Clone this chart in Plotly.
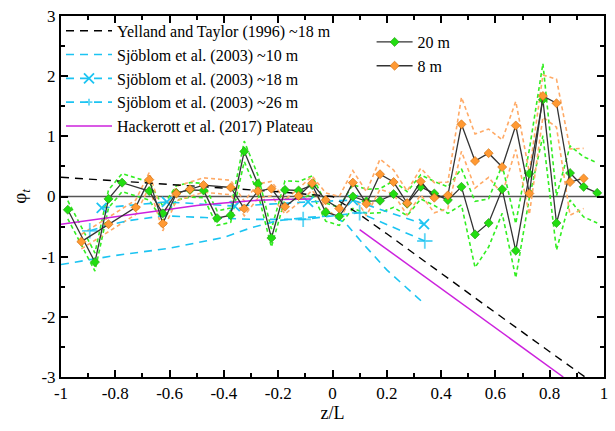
import plotly.graph_objects as go

# ---------------- data ----------------
x20 = [-0.975, -0.875, -0.825, -0.775, -0.675, -0.625, -0.575, -0.525, -0.475, -0.425,
       -0.375, -0.325, -0.275, -0.225, -0.175, -0.125, -0.075, -0.025, 0.025, 0.075,
       0.125, 0.175, 0.225, 0.275, 0.325, 0.375, 0.425, 0.475, 0.525, 0.575,
       0.625, 0.675, 0.725, 0.775, 0.825, 0.875, 0.925, 0.975]
y20 = [-0.22, -1.09, -0.04, 0.23, 0.09, -0.28, 0.06, 0.11, 0.10, -0.36,
       -0.31, 0.75, 0.21, -0.69, 0.11, 0.10, 0.19, -0.26, -0.33, 0.00,
       -0.08, -0.07, 0.04, -0.12, 0.16, 0.05, -0.06, 0.16, -0.63, -0.44,
       0.12, -0.90, 0.38, 1.61, -0.44, 0.39, 0.16, 0.06]
e20 = [0.15, 0.15, 0.15, 0.15, 0.15, 0.12, 0.12, 0.12, 0.12, 0.12,
       0.12, 0.17, 0.15, 0.15, 0.15, 0.15, 0.15, 0.15, 0.15, 0.20,
       0.20, 0.20, 0.22, 0.20, 0.20, 0.20, 0.22, 0.30, 0.55, 0.40,
       0.40, 0.45, 0.40, 0.60, 0.45, 0.45, 0.50, 0.50]

x8 = [-0.925, -0.825, -0.725, -0.675, -0.625, -0.575, -0.525, -0.475, -0.375, -0.325,
      -0.275, -0.225, -0.175, -0.125, -0.075, -0.025, 0.025, 0.075, 0.125, 0.175,
      0.225, 0.275, 0.325, 0.375, 0.425, 0.475, 0.525, 0.575, 0.625, 0.675,
      0.725, 0.775, 0.825, 0.875, 0.925]
y8 = [-0.75, -0.46, -0.18, 0.28, -0.45, 0.05, 0.12, 0.19, 0.15, -0.20,
      0.09, 0.13, -0.17, 0.01, 0.22, -0.06, -0.20, 0.23, -0.12, 0.37,
      0.24, -0.11, 0.25, -0.02, 0.02, 1.20, 0.59, 0.72, 0.49, 1.18,
      0.05, 1.67, 1.55, 0.24, 0.30]
e8 = [0.12, 0.12, 0.12, 0.12, 0.12, 0.12, 0.12, 0.12, 0.12, 0.12,
      0.12, 0.12, 0.12, 0.12, 0.12, 0.12, 0.20, 0.20, 0.20, 0.25,
      0.20, 0.20, 0.22, 0.25, 0.22, 0.45, 0.45, 0.40, 0.45, 0.40,
      0.35, 0.35, 0.40, 0.55, 0.50]

x_yt = [-1.0, -0.8, -0.6, -0.4, -0.2, 0.0, 0.1, 0.2, 0.4, 0.6, 0.8, 0.93]
y_yt = [0.32, 0.26, 0.20, 0.14, 0.08, 0.0, -0.30, -0.62, -1.28, -1.93, -2.58, -3.0]

x_s10 = [-1.0, -0.8, -0.6, -0.4, -0.3, -0.2, -0.1, 0.0, 0.05, 0.1, 0.2, 0.33]
y_s10 = [-1.13, -0.98, -0.86, -0.68, -0.52, -0.40, -0.35, -0.32, -0.45, -0.72, -1.22, -1.75]

x_s18 = [-0.85, -0.61, -0.36, -0.09, 0.075, 0.337]
y_s18 = [-0.19, -0.09, -0.16, -0.09, -0.06, -0.46]

x_s26 = [-0.894, -0.83, -0.75, -0.62, -0.47, -0.29, -0.108, 0.1, 0.34]
y_s26 = [-0.57, -0.48, -0.40, -0.32, -0.35, -0.38, -0.38, -0.27, -0.74]
s26_marked = [True, False, False, False, False, False, True, True, True]

x_hk = [-1.0, -0.9, -0.8, -0.7, -0.6, -0.5, -0.4, -0.3, -0.2, -0.08, None, 0.1, 0.85]
y_hk = [-0.46, -0.40, -0.33, -0.27, -0.21, -0.15, -0.11, -0.07, -0.05, -0.04, None, -0.55, -3.0]

xticks = [-1, -0.8, -0.6, -0.4, -0.2, 0, 0.2, 0.4, 0.6, 0.8, 1]
xticklabels = ["-1", "-0.8", "-0.6", "-0.4", "-0.2", "0", "0.2", "0.4", "0.6", "0.8", "1"]
yticks = [-3, -2, -1, 0, 1, 2, 3]
yticklabels = ["-3", "-2", "-1", "0", "1", "2", "3"]

# ---------------- styles ----------------
FONT = "Liberation Serif, DejaVu Serif, Noto Serif, serif"
GREEN = "#22DD11"
GREEN_BAND = "#33EE22"
ORANGE = "#FF9933"
ORANGE_BAND = "#FFAA66"
CYAN = "#1CC4F2"
MAGENTA = "#CC22DD"

fig = go.Figure()

# zero line
fig.add_trace(go.Scatter(x=[-1, 1], y=[0, 0], mode="lines",
                         line=dict(color="#555555", width=1.5), showlegend=False, hoverinfo="skip"))

# uncertainty bands
for xs, ys, es, col in [(x20, y20, e20, GREEN_BAND), (x8, y8, e8, ORANGE_BAND)]:
    up = [y + e for y, e in zip(ys, es)]
    lo = [y - e for y, e in zip(ys, es)]
    for band in (up, lo):
        fig.add_trace(go.Scatter(x=xs, y=band, mode="lines",
                                 line=dict(color=col, width=1.6, dash="4px,3px"),
                                 showlegend=False, hoverinfo="skip"))

# reference curves
fig.add_trace(go.Scatter(x=x_yt, y=y_yt, mode="lines", name="Yelland and Taylor (1996) ~18 m",
                         line=dict(color="black", width=1.4, dash="8px,6px"), legend="legend"))
fig.add_trace(go.Scatter(x=x_s10, y=y_s10, mode="lines", name="Sjöblom et al. (2003) ~10 m",
                         line=dict(color=CYAN, width=1.6, dash="8px,6px"), legend="legend"))
fig.add_trace(go.Scatter(x=x_s18, y=y_s18, mode="lines+markers", name="Sjöblom et al. (2003) ~18 m",
                         line=dict(color=CYAN, width=1.6, dash="8px,6px"),
                         marker=dict(symbol="x-thin", size=10, line=dict(color=CYAN, width=1.8)),
                         legend="legend"))
fig.add_trace(go.Scatter(x=x_s26, y=y_s26, mode="lines+markers", name="Sjöblom et al. (2003) ~26 m",
                         line=dict(color=CYAN, width=1.6, dash="8px,6px"),
                         marker=dict(symbol="cross-thin", size=[11 if m else 0 for m in s26_marked],
                                     line=dict(color=CYAN, width=1.8)),
                         legend="legend"))
fig.add_trace(go.Scatter(x=x_hk, y=y_hk, mode="lines", name="Hackerott et al. (2017) Plateau",
                         line=dict(color=MAGENTA, width=1.5), legend="legend", connectgaps=False))

# measured series
fig.add_trace(go.Scatter(x=x20, y=y20, mode="lines+markers", name="20 m",
                         line=dict(color="#333333", width=1.3),
                         marker=dict(symbol="diamond", size=7, color=GREEN,
                                     line=dict(color="#229911", width=0.6)),
                         legend="legend2"))
fig.add_trace(go.Scatter(x=x8, y=y8, mode="lines+markers", name="8 m",
                         line=dict(color="#333333", width=1.3),
                         marker=dict(symbol="diamond", size=7, color=ORANGE,
                                     line=dict(color="#CC6600", width=0.6)),
                         legend="legend2"))

axis_common = dict(showline=True, linecolor="black", linewidth=2, mirror="allticks",
                   ticks="inside", ticklen=7, tickwidth=1.5, tickcolor="black",
                   showgrid=False, zeroline=False,
                   tickfont=dict(family=FONT, size=17, color="black"))

fig.update_xaxes(range=[-1, 1], tickvals=xticks, ticktext=xticklabels,
                 minor=dict(dtick=0.1, tick0=0, ticks="inside", ticklen=4, tickwidth=1.5, tickcolor="black"),
                 title=dict(text="z/L", font=dict(family=FONT, size=18, color="black"), standoff=4),
                 **axis_common)
fig.update_yaxes(range=[-3, 3], tickvals=yticks, ticktext=yticklabels,
                 minor=dict(dtick=0.5, tick0=0, ticks="inside", ticklen=4, tickwidth=1.5, tickcolor="black"),
                 title=dict(text="φ<sub><i>t</i></sub>", font=dict(family=FONT, size=19, color="black"), standoff=10),
                 **axis_common)

fig.update_layout(
    width=615, height=431,
    margin=dict(l=61, r=7, t=14, b=54),
    paper_bgcolor="white", plot_bgcolor="white",
    font=dict(family=FONT, color="black"),
    legend=dict(x=0.0, y=1.006, xanchor="left", yanchor="top", bgcolor="rgba(0,0,0,0)",
                font=dict(family=FONT, size=16, color="black"), tracegroupgap=0,
                itemwidth=46),
    legend2=dict(x=0.572, y=0.975, xanchor="left", yanchor="top", bgcolor="rgba(0,0,0,0)",
                 font=dict(family=FONT, size=16, color="black"), tracegroupgap=0,
                 itemwidth=36),
)

fig.write_html("out.html")
